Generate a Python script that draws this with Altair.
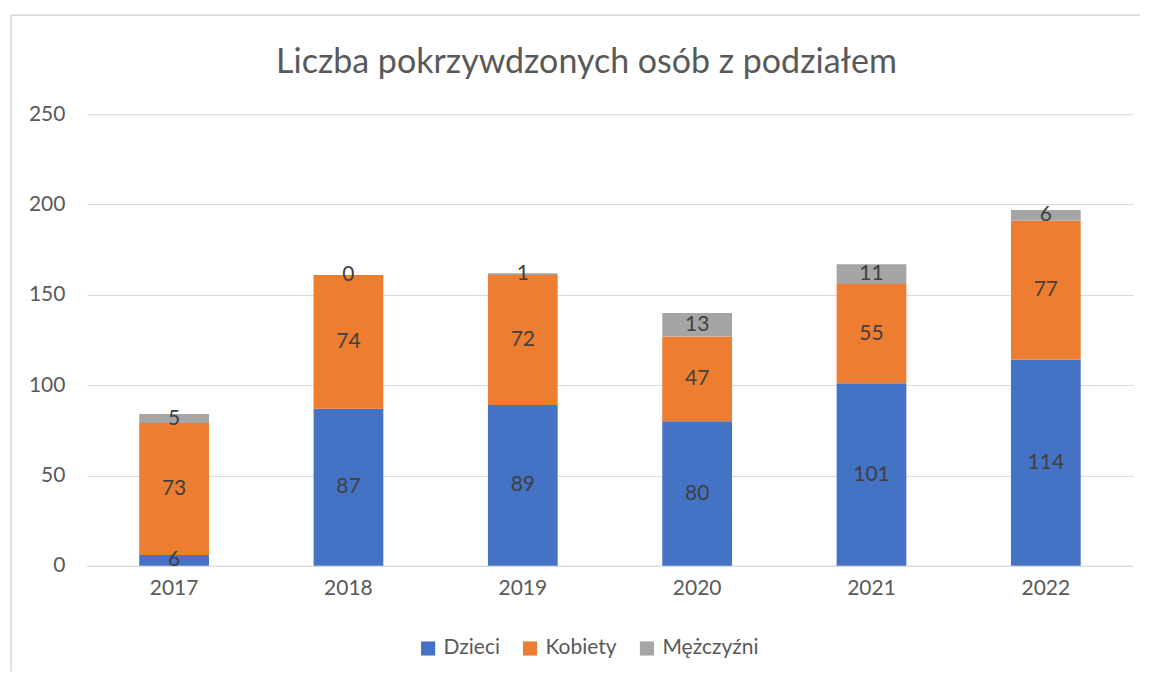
import altair as alt
import pandas as pd

years = ["2017", "2018", "2019", "2020", "2021", "2022"]
series = ["Dzieci", "Kobiety", "Mężczyźni"]
dzieci = [6, 87, 89, 80, 101, 114]
kobiety = [73, 74, 72, 47, 55, 77]
mezczyzni = [5, 0, 1, 13, 11, 6]
colors = ["#4472C4", "#ED7D31", "#A5A5A5"]
title_text = "Liczba pokrzywdzonych osób z podziałem"

rows = []
for i, y in enumerate(years):
    for k, (s, vals) in enumerate(zip(series, [dzieci, kobiety, mezczyzni])):
        rows.append({"rok": y, "grupa": s, "wartosc": vals[i], "kolejnosc": k})
df = pd.DataFrame(rows)

FONT = "Lato"
TXT = "#595959"
FS = 21

yscale = alt.Scale(domain=[0, 250], nice=False)

base = alt.Chart(df).transform_stack(
    stack="wartosc", groupby=["rok"], as_=["y0", "y1"],
    sort=[alt.SortField("kolejnosc", order="ascending")]
).transform_calculate(mid="(datum.y0 + datum.y1) / 2")

xenc = alt.X("rok:N", title=None, sort=years,
             scale=alt.Scale(paddingInner=0.6, paddingOuter=0.3),
             axis=alt.Axis(labelAngle=0, labelFont=FONT, labelFontSize=FS, labelColor=TXT,
                           domainColor="#d9d9d9", domainWidth=1, ticks=False, labelPadding=12,
                           grid=False))

bars = base.mark_bar().encode(
    x=xenc,
    y=alt.Y("y0:Q", title=None, scale=yscale,
            axis=alt.Axis(values=[0, 50, 100, 150, 200, 250], labelFont=FONT, labelFontSize=FS,
                          labelColor=TXT, domain=False, ticks=False, labelPadding=22,
                          gridColor="#d9d9d9", gridWidth=1)),
    y2="y1:Q",
    color=alt.Color("grupa:N", sort=series,
                    scale=alt.Scale(domain=series, range=colors),
                    legend=alt.Legend(title=None, orient="none", direction="horizontal",
                                      legendX=331, legendY=524, symbolType="square",
                                      symbolSize=200, symbolStrokeWidth=0,
                                      labelFont=FONT, labelFontSize=FS, labelColor=TXT,
                                      columnPadding=19, labelOffset=5)),
    order=alt.Order("kolejnosc:Q"),
)

labels = base.mark_text(font=FONT, fontSize=FS, color="#404040", baseline="middle").encode(
    x=alt.X("rok:N", sort=years),
    y=alt.Y("mid:Q", scale=yscale),
    text=alt.Text("wartosc:Q"),
)

frame = pd.DataFrame({"t": [title_text]})
top_line = alt.Chart(frame).mark_rule(color="#d9d9d9", strokeWidth=1.5).encode(
    x=alt.value(-76), x2=alt.value(1054), y=alt.value(-99))
left_line = alt.Chart(frame).mark_rule(color="#d9d9d9", strokeWidth=1.5).encode(
    x=alt.value(-76), y=alt.value(-99), y2=alt.value(558))
title = alt.Chart(frame).mark_text(font=FONT, fontSize=34, color=TXT, baseline="middle",
                                   align="center").encode(
    x=alt.value(500), y=alt.value(-51), text="t:N")

chart = alt.layer(top_line, left_line, title, bars, labels).properties(
    width=1047, height=452,
    padding={"left": 2, "top": 6, "right": 0, "bottom": 0},
).configure_view(stroke=None)

chart.save("out.html", embed_options={"renderer": "svg", "actions": False})
